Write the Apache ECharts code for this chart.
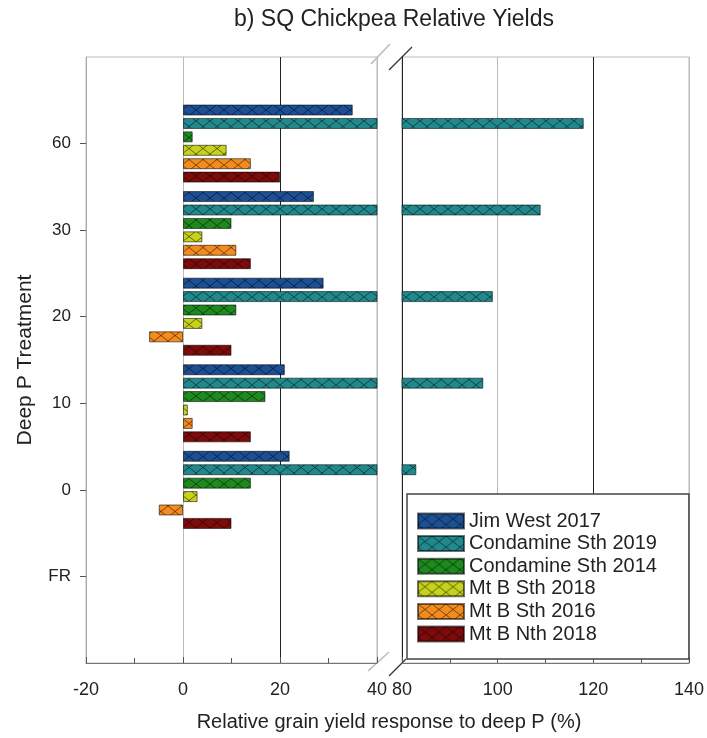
<!DOCTYPE html>
<html>
<head>
<meta charset="utf-8">
<title>SQ Chickpea Relative Yields</title>
<script src="https://cdn.jsdelivr.net/npm/echarts@6.0.0/dist/echarts.min.js"></script>
<style>
  html, body { margin: 0; padding: 0; background: #fff; }
  #main { width: 707px; height: 738px; }
</style>
</head>
<body>
<div id="main"></div>
<script>
// deep P treatments, bottom to top
var treatments = ["FR", "0", "10", "20", "30", "60"];
var seriesNames = ["Jim West 2017", "Condamine Sth 2019", "Condamine Sth 2014", "Mt B Sth 2018", "Mt B Sth 2016", "Mt B Nth 2018"];

// relative grain yield response (%), same order as treatments; FR has no bar
var jimWest2017 = ["-", 22, 21, 29, 27, 35];
var condamineSth2019 = ["-", 83, 97, 99, 109, 118];
var condamineSth2014 = ["-", 14, 17, 11, 10, 2];
var mtBSth2018 = ["-", 3, 1, 4, 4, 9];
var mtBSth2016 = ["-", -5, 2, -7, 11, 14];
var mtBNth2018 = ["-", 10, 14, 10, 14, 20];

var seriesValues = [jimWest2017, condamineSth2019, condamineSth2014, mtBSth2018, mtBSth2016, mtBNth2018];
var seriesColors = ["#1c4f93", "#21898c", "#1e8a1e", "#c6d21c", "#f48b1f", "#7d0b0b"];

var fontFamily = "Liberation Sans, Arial, sans-serif";

// half a band of empty space above and below, like the original axis
var yCats = [""].concat(treatments, [""]);

// cross hatch fill
function hatch(color) {
  var c = document.createElement("canvas");
  c.width = 14;
  c.height = 11;
  var ctx = c.getContext("2d");
  ctx.fillStyle = color;
  ctx.fillRect(0, 0, 14, 11);
  ctx.strokeStyle = "rgba(0,0,0,0.5)";
  ctx.lineWidth = 1;
  ctx.beginPath();
  ctx.moveTo(0, 0);
  ctx.lineTo(14, 11);
  ctx.moveTo(14, 0);
  ctx.lineTo(0, 11);
  ctx.stroke();
  return { image: c, repeat: "repeat" };
}

var series = [];
for (var g = 0; g < 2; g++) {
  for (var i = 0; i < seriesNames.length; i++) {
    series.push({
      name: seriesNames[i],
      type: "bar",
      xAxisIndex: g,
      yAxisIndex: g,
      data: ["-"].concat(seriesValues[i], ["-"]),
      barWidth: 11,
      barGap: "22%",
      clip: true,
      silent: true,
      itemStyle: {
        color: hatch(seriesColors[i]),
        borderColor: "rgba(0,0,0,0.55)",
        borderWidth: 1
      }
    });
  }
}

function xAxisCfg(idx, min, max, lineColors) {
  return {
    gridIndex: idx,
    type: "value",
    min: min,
    max: max,
    interval: 20,
    axisLine: { show: true, onZero: false, lineStyle: { color: "#777", width: 1 } },
    axisTick: { show: true, inside: true, length: 6, lineStyle: { color: "#555" } },
    minorTick: { show: true, splitNumber: 2, length: 5, lineStyle: { color: "#555" } },
    axisLabel: { fontSize: 18, color: "#222", margin: 18, fontFamily: fontFamily },
    splitLine: { show: true, lineStyle: { color: lineColors, width: 1 } }
  };
}

var chart = echarts.init(document.getElementById("main"));

var option = {
  animation: false,
  title: {
    text: "b) SQ Chickpea Relative Yields",
    left: 389,
    textAlign: "center",
    top: 3,
    textStyle: { fontSize: 23, fontWeight: "normal", color: "#222", fontFamily: fontFamily }
  },
  grid: [
    { left: 86, top: 57, width: 291, height: 606, show: true, borderColor: "#bbb", borderWidth: 1 },
    { left: 402, top: 57, width: 290, height: 606, show: true, borderColor: "#bbb", borderWidth: 1 }
  ],
  xAxis: [
    xAxisCfg(0, -20, 40, ["#bbb", "#bbb", "#222", "#bbb"]),
    xAxisCfg(1, 80, 140, ["#222", "#bbb", "#222", "#bbb"])
  ],
  yAxis: [
    {
      gridIndex: 0,
      type: "category",
      data: yCats,
      boundaryGap: false,
      axisLine: { show: true, onZero: false, lineStyle: { color: "#aaa" } },
      axisTick: {
        show: true,
        length: 6,
        interval: function (idx, val) { return val !== ""; },
        lineStyle: { color: "#555" }
      },
      axisLabel: { interval: 0, fontSize: 17, color: "#222", margin: 15, fontFamily: fontFamily },
      splitLine: { show: false },
      name: "Deep P Treatment",
      nameLocation: "middle",
      nameGap: 50,
      nameRotate: 90,
      nameTextStyle: { fontSize: 21, color: "#222", fontFamily: fontFamily }
    },
    {
      gridIndex: 1,
      type: "category",
      data: yCats,
      boundaryGap: false,
      axisLine: { show: true, onZero: false, lineStyle: { color: "#222" } },
      axisTick: { show: false },
      axisLabel: { show: false },
      splitLine: { show: false }
    }
  ],
  legend: {
    data: seriesNames,
    orient: "vertical",
    left: 407,
    top: 494,
    padding: [17, 32, 15, 10],
    itemWidth: 46,
    itemHeight: 15,
    itemGap: 2.6,
    icon: "rect",
    selectedMode: false,
    backgroundColor: "#fff",
    borderColor: "#444",
    borderWidth: 1.5,
    textStyle: { fontSize: 20, color: "#222", fontFamily: fontFamily }
  },
  graphic: [
    // axis break marks
    { type: "line", shape: { x1: 371, y1: 64, x2: 390, y2: 44 }, style: { stroke: "#bbb", lineWidth: 1.5 } },
    { type: "line", shape: { x1: 389, y1: 70, x2: 412, y2: 47 }, style: { stroke: "#333", lineWidth: 1.2 } },
    { type: "line", shape: { x1: 368, y1: 671, x2: 389, y2: 652 }, style: { stroke: "#bbb", lineWidth: 1.5 } },
    { type: "line", shape: { x1: 389, y1: 676, x2: 406, y2: 659 }, style: { stroke: "#333", lineWidth: 1.2 } },
    {
      type: "text",
      x: 389,
      y: 722,
      style: {
        text: "Relative grain yield response to deep P (%)",
        align: "center",
        verticalAlign: "middle",
        fontSize: 20,
        fill: "#222",
        fontFamily: fontFamily
      }
    }
  ],
  series: series
};

option && chart.setOption(option);
</script>
</body>
</html>
